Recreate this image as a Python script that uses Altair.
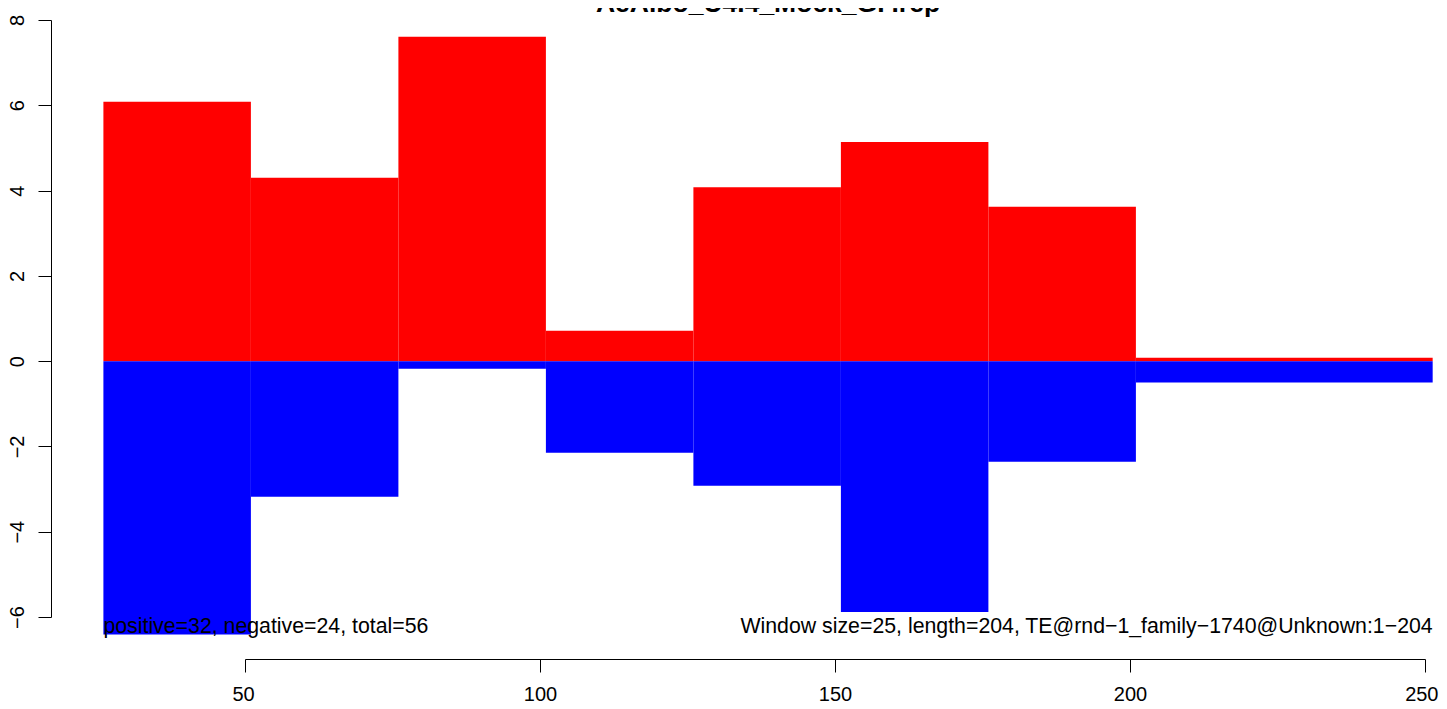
import altair as alt
import pandas as pd

# ---- data ----
bin_start = [26, 51, 76, 101, 126, 151, 176, 201]
bin_end = [51, 76, 101, 126, 151, 176, 201, 251.3]
positive = [6.08, 4.30, 7.61, 0.71, 4.08, 5.14, 3.62, 0.08]
negative = [-6.41, -3.18, -0.18, -2.15, -2.92, -5.88, -2.36, -0.50]

x_ticks = [50, 100, 150, 200, 250]
y_ticks = [-6, -4, -2, 0, 2, 4, 6, 8]

title_text = "AeAlbo_U4.4_Mock_GP.rep"
left_note = "positive=32, negative=24, total=56"
right_note = "Window size=25, length=204, TE@rnd\u22121_family\u22121740@Unknown:1\u2212204"

FONT = "Liberation Sans"

df = pd.DataFrame({"start": bin_start, "end": bin_end,
                   "pos": positive, "neg": negative})

notes = pd.DataFrame({
    "x": [min(bin_start), max(bin_end)],
    "y": [min(y_ticks), min(y_ticks)],
    "label": [left_note, right_note],
    "side": ["left", "right"],
})

xscale = alt.Scale(domain=[min(x_ticks), max(x_ticks)], nice=False, zero=False)
yscale = alt.Scale(domain=[min(y_ticks), max(y_ticks)], nice=False, zero=False)

xaxis = alt.Axis(values=x_ticks, title="", offset=42, tickSize=13,
                 labelPadding=12, labelFontSize=20, labelFont=FONT,
                 labelColor="black", domainColor="black", tickColor="black",
                 grid=False, labelFlush=True, labelFlushOffset=13,
                 labelOverlap=False)
yaxis = alt.Axis(values=y_ticks, title="", offset=194, tickSize=13,
                 labelPadding=15, labelFontSize=20, labelFont=FONT,
                 labelAngle=270, labelAlign="center", labelBaseline="alphabetic",
                 labelColor="black", domainColor="black", tickColor="black",
                 grid=False, labelFlush=False, labelOverlap=False)

base = alt.Chart(df)

red = base.mark_rect(color="#ff0000").encode(
    x=alt.X("start:Q", scale=xscale, axis=xaxis),
    x2="end:Q",
    y=alt.Y("pos:Q", scale=yscale, axis=yaxis),
    y2=alt.datum(0),
)

blue = base.mark_rect(color="#0000ff").encode(
    x=alt.X("start:Q", scale=xscale),
    x2="end:Q",
    y=alt.Y("neg:Q", scale=yscale),
    y2=alt.datum(0),
)

left_txt = alt.Chart(notes[notes.side == "left"]).mark_text(
    align="left", baseline="alphabetic", dy=16, fontSize=21.3, font=FONT, color="black"
).encode(x=alt.X("x:Q", scale=xscale), y=alt.Y("y:Q", scale=yscale), text="label:N")

right_txt = alt.Chart(notes[notes.side == "right"]).mark_text(
    align="right", baseline="alphabetic", dy=16, fontSize=21.3, font=FONT, color="black"
).encode(x=alt.X("x:Q", scale=xscale), y=alt.Y("y:Q", scale=yscale), text="label:N")

title = alt.Chart(pd.DataFrame({"t": [title_text]})).mark_text(
    align="center", baseline="alphabetic", fontSize=26.5, fontWeight="bold",
    font=FONT, color="black"
).encode(x=alt.value(523), y=alt.value(-8), text="t:N")

chart = alt.layer(red, blue, left_txt, right_txt, title).properties(
    width=1180, height=597,
    autosize=alt.AutoSizeParams(type="none"),
    padding={"left": 237, "top": 12, "right": 14, "bottom": 84},
    background="white",
).configure_view(stroke=None)

chart.save("out.html", embed_options={"renderer": "svg", "actions": False})
